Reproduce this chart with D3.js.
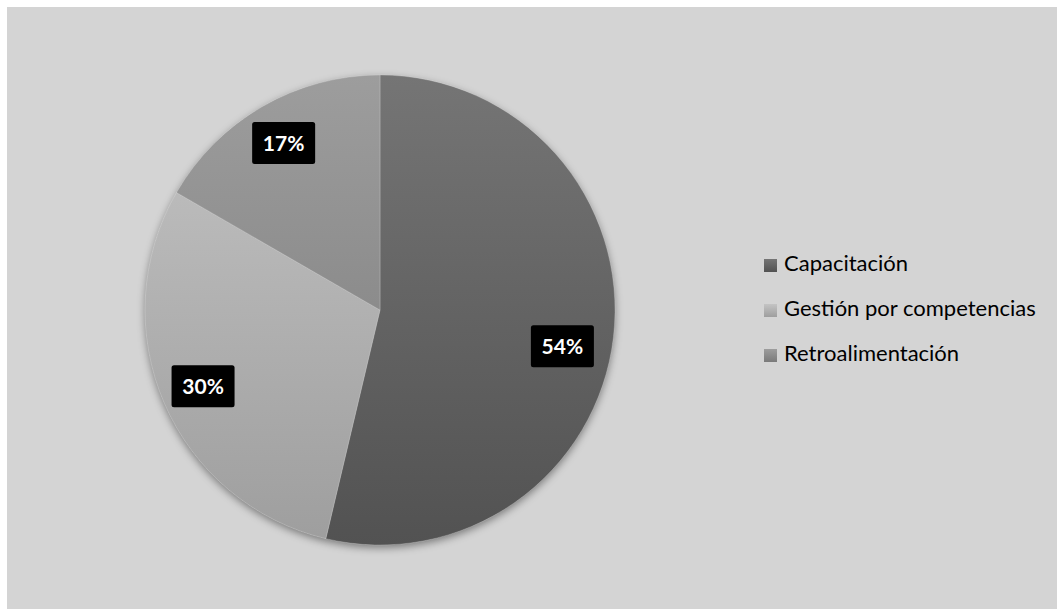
<!DOCTYPE html>
<html>
<head>
<meta charset="utf-8">
<script src="https://cdn.jsdelivr.net/npm/d3@7"></script>
<style>
  html, body { margin: 0; padding: 0; background: #ffffff; }
  svg { display: block; }
</style>
</head>
<body>
<svg id="chart" width="1057" height="609"></svg>
<script>
// Respuestas por categoría
const categories = ["Capacitación", "Gestión por competencias", "Retroalimentación"];
const counts = [29, 16, 9];
const percentLabels = ["54%", "30%", "17%"];

// Degradados verticales de cada porción (claro arriba, oscuro abajo)
const gradTop = ["#757575", "#c4c4c4", "#9d9d9d"];
const gradBottom = ["#525252", "#9e9e9e", "#7a7a7a"];

const W = 1057, H = 609;
const cx = 380, cy = 310, R = 235;

const svg = d3.select("#chart");
const defs = svg.append("defs");

// Fondo del área del gráfico
svg.append("rect")
  .attr("x", 7).attr("y", 7)
  .attr("width", W - 7).attr("height", H - 7)
  .attr("fill", "#d4d4d4");

// Sombra suave del pastel
const shadow = defs.append("filter")
  .attr("id", "pieShadow")
  .attr("x", "-20%").attr("y", "-20%")
  .attr("width", "140%").attr("height", "140%");
shadow.append("feDropShadow")
  .attr("dx", 0).attr("dy", 3)
  .attr("stdDeviation", 4)
  .attr("flood-color", "#000")
  .attr("flood-opacity", 0.45);

// Degradados en coordenadas del grupo del pastel (centro en 0,0)
categories.forEach((c, i) => {
  const g = defs.append("linearGradient")
    .attr("id", "grad" + i)
    .attr("gradientUnits", "userSpaceOnUse")
    .attr("x1", 0).attr("x2", 0)
    .attr("y1", -R).attr("y2", R);
  g.append("stop").attr("offset", "0%").attr("stop-color", gradTop[i]);
  g.append("stop").attr("offset", "100%").attr("stop-color", gradBottom[i]);

  const lg = defs.append("linearGradient")
    .attr("id", "legGrad" + i)
    .attr("x1", 0).attr("x2", 0).attr("y1", 0).attr("y2", 1);
  lg.append("stop").attr("offset", "0%").attr("stop-color", gradTop[i]);
  lg.append("stop").attr("offset", "100%").attr("stop-color", gradBottom[i]);
});

const pie = d3.pie().sort(null).value(d => d)(counts);
const arc = d3.arc().innerRadius(0).outerRadius(R);
const labelArc = d3.arc().innerRadius(R * 0.82).outerRadius(R * 0.82);

const gPie = svg.append("g")
  .attr("transform", `translate(${cx},${cy})`);

// Forma completa detrás de las porciones que proyecta la sombra
gPie.append("circle")
  .attr("r", R - 0.5)
  .attr("fill", "#888")
  .attr("filter", "url(#pieShadow)");

gPie.selectAll("path.slice")
  .data(pie)
  .join("path")
  .attr("class", "slice")
  .attr("d", arc)
  .attr("fill", (d, i) => `url(#grad${i})`)
  .attr("stroke", "rgba(255,255,255,0.25)")
  .attr("stroke-width", 0.8);

// Etiquetas de porcentaje
const labelNudge = [[-9, 14], [0, 0], [0, 0]];
const boxW = 63, boxH = 42;
const lab = gPie.selectAll("g.lab")
  .data(pie)
  .join("g")
  .attr("class", "lab")
  .attr("transform", (d, i) => {
    const [x, y] = labelArc.centroid(d);
    return `translate(${x + labelNudge[i][0]},${y + labelNudge[i][1]})`;
  });
lab.append("rect")
  .attr("x", -boxW / 2).attr("y", -boxH / 2)
  .attr("width", boxW).attr("height", boxH)
  .attr("rx", 2.5)
  .attr("fill", "#000");
lab.append("text")
  .attr("text-anchor", "middle")
  .attr("dy", "0.36em")
  .attr("font-family", "Lato, 'Open Sans', sans-serif")
  .attr("font-weight", "bold")
  .attr("font-size", 21)
  .attr("fill", "#fff")
  .text((d, i) => percentLabels[i]);

// Leyenda
const legend = svg.append("g").attr("transform", "translate(764,259)");
const rows = legend.selectAll("g")
  .data(categories)
  .join("g")
  .attr("transform", (d, i) => `translate(0,${i * 45})`);
rows.append("rect")
  .attr("width", 13).attr("height", 13)
  .attr("fill", (d, i) => `url(#legGrad${i})`);
rows.append("text")
  .attr("x", 20).attr("y", 12)
  .attr("font-family", "Lato, 'Open Sans', sans-serif")
  .attr("font-size", 22)
  .attr("fill", "#000")
  .text(d => d);
</script>
</body>
</html>
